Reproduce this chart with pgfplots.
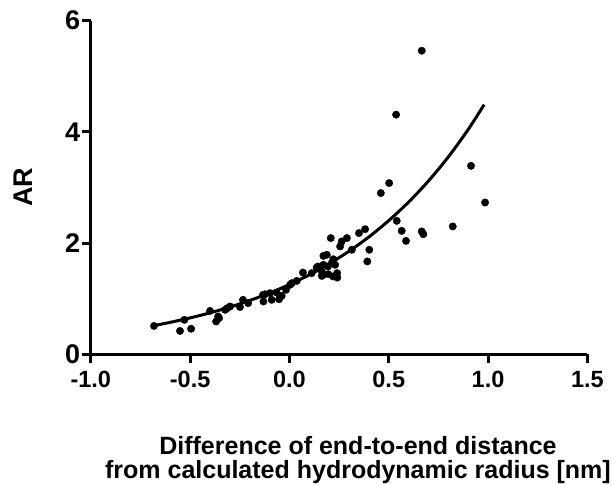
\documentclass[border=0pt]{standalone}
\usepackage{fontspec}
\setmainfont{Liberation Sans}
\usepackage{pgfplots}
\pgfplotsset{compat=1.18}

% measured points (x: difference [nm], y: AR)
\pgfplotstableread{
x y
-0.682 0.51
-0.529 0.62
-0.551 0.42
-0.495 0.46
-0.400 0.78
-0.369 0.59
-0.354 0.65
-0.359 0.68
-0.324 0.80
-0.313 0.83
-0.299 0.86
-0.249 0.85
-0.234 0.98
-0.208 0.92
-0.133 1.07
-0.123 1.08
-0.131 0.95
-0.098 1.10
-0.089 0.98
-0.064 1.11
-0.052 0.99
-0.039 1.05
-0.017 1.16
0.003 1.25
0.012 1.28
0.037 1.32
0.068 1.47
0.112 1.46
0.137 1.56
0.144 1.58
0.163 1.49
0.163 1.41
0.169 1.43
0.171 1.61
0.171 1.77
0.188 1.79
0.194 1.58
0.196 1.44
0.213 1.64
0.220 1.40
0.221 1.71
0.230 1.61
0.240 1.46
0.241 1.38
0.208 2.09
0.255 1.94
0.263 2.03
0.289 2.09
0.314 1.88
0.350 2.18
0.381 2.25
0.392 1.67
0.402 1.88
0.460 2.90
0.502 3.08
0.537 4.31
0.540 2.40
0.565 2.22
0.587 2.04
0.666 2.21
0.674 2.16
0.666 5.46
0.822 2.30
0.914 3.39
0.985 2.73
}\points

% fitted curve
\pgfplotstableread{
x y
-0.68 0.518
-0.60 0.575
-0.50 0.655
-0.40 0.746
-0.30 0.850
-0.20 0.968
-0.10 1.102
0.00 1.255
0.10 1.429
0.20 1.628
0.30 1.854
0.40 2.111
0.50 2.405
0.60 2.738
0.70 3.118
0.80 3.551
0.90 4.043
0.98 4.490
}\fit

\begin{document}
\begin{tikzpicture}
\useasboundingbox (-90.8pt,-129.7pt) rectangle (524.2pt,354.3pt);
\begin{axis}[
    scale only axis,
    width=496.6pt, height=333.6pt,
    xmin=-1, xmax=1.5, ymin=0, ymax=6,
    axis lines*=left,
    axis line style={line width=3pt},
    xtick={-1,-0.5,0,0.5,1,1.5},
    xticklabels={-1.0,-0.5,0.0,0.5,1.0,1.5},
    ytick={0,2,4,6},
    yticklabels={0,2,4,6},
    tick align=outside,
    major tick length=9pt,
    tick style={line width=3pt, black},
    xticklabel style={font=\fontsize{23.5}{26}\selectfont\bfseries, inner sep=0pt, yshift=-8pt},
    yticklabel style={font=\fontsize{27}{28}\selectfont\bfseries, inner sep=0pt, xshift=-1.5pt},
    tick label style={/pgf/number format/assume math mode=true},
    xlabel={Difference of end-to-end distance\\from calculated hydrodynamic radius [nm]},
    xlabel style={font=\fontsize{25}{24}\selectfont\bfseries, align=center,
        inner sep=0pt, at={(axis description cs:0.538,0)}, anchor=north, yshift=-82pt},
    ylabel={AR},
    ylabel style={font=\fontsize{27}{30}\selectfont\bfseries, inner sep=0pt,
        at={(axis description cs:-0.1365,0.5)}, anchor=center},
    clip=false,
]
\addplot[line width=3pt, smooth, black] table[x=x, y=y] {\fit};
\addplot[only marks, mark=*, mark size=3.7pt, black] table[x=x, y=y] {\points};
\end{axis}
\end{tikzpicture}
\end{document}
